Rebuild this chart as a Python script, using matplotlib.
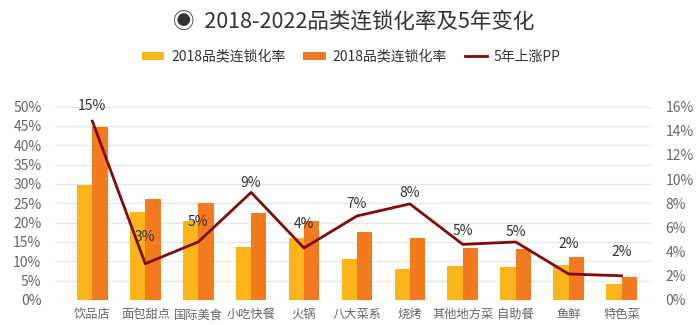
import numpy as np
import matplotlib.pyplot as plt
from matplotlib.ticker import PercentFormatter

plt.rcParams['font.family'] = ['Noto Sans CJK SC', 'DejaVu Sans']

# data
categories = ['饮品店', '面包甜点', '国际美食', '小吃快餐', '火锅', '八大菜系',
              '烧烤', '其他地方菜', '自助餐', '鱼鲜', '特色菜']
rate_2018 = [29.7, 22.8, 20.4, 13.8, 15.9, 10.7, 8.1, 8.8, 8.4, 9.1, 4.1]
rate_2022 = [44.6, 26.0, 25.1, 22.5, 20.4, 17.6, 15.9, 13.5, 13.1, 11.2, 5.9]
rise_pp = [14.8, 3.0, 4.8, 8.9, 4.3, 6.95, 7.95, 4.6, 4.8, 2.15, 2.0]
rise_labels = ['15%', '3%', '5%', '9%', '4%', '7%', '8%', '5%', '5%', '2%', '2%']

# label offsets above the line (pixels), as in the source
label_dy = [15, 27, 20, 9, 24, 12, 11, 13, 10, 30, 24]

c_yellow = '#FBB41A'
c_orange = '#F47A20'
c_line = '#7E0C0C'
c_text = '#666666'

fig = plt.figure(figsize=(7, 3.25), dpi=100)
ax = fig.add_axes([0.079, 0.077, 0.852, 0.595])
ax2 = ax.twinx()

x = np.arange(len(categories))
w = 0.29
ax.bar(x - w / 2, rate_2018, w, color=c_yellow, label='2018品类连锁化率', zorder=2)
ax.bar(x + w / 2, rate_2022, w, color=c_orange, label='2018品类连锁化率', zorder=2)
ax2.plot(x, rise_pp, color=c_line, lw=2, label='5年上涨PP', zorder=3)

for xi, yi, lab, dy in zip(x, rise_pp, rise_labels, label_dy):
    ax2.annotate(lab, (xi, yi), xytext=(0, dy * 0.72), textcoords='offset points',
                 ha='center', va='center', fontsize=10, color='#333333')

ax.set_xlim(-0.7, 10.57)
ax.set_ylim(0, 50)
ax2.set_ylim(0, 16)
ax.set_yticks(np.arange(0, 51, 5))
ax2.set_yticks(np.arange(0, 17, 2))
ax.yaxis.set_major_formatter(PercentFormatter(decimals=0))
ax2.yaxis.set_major_formatter(PercentFormatter(decimals=0))
ax.set_xticks(x)
ax.set_xticklabels(categories)

ax.grid(axis='y', color='#E6E6E6', lw=1, zorder=0)
ax.set_axisbelow(True)
for a in (ax, ax2):
    for s in a.spines.values():
        s.set_visible(False)
    a.tick_params(length=0, labelsize=10, labelcolor=c_text)
ax.tick_params(axis='x', labelsize=8.8, pad=6)
ax.tick_params(axis='y', pad=10)
ax2.tick_params(axis='y', pad=10)

fig.text(0.505, 0.935, '◉  2018-2022品类连锁化率及5年变化', ha='center', va='center',
         fontsize=15.5, color='#333333')

h1, l1 = ax.get_legend_handles_labels()
h2, l2 = ax2.get_legend_handles_labels()
fig.legend(h1 + h2, l1 + l2, loc='center', bbox_to_anchor=(0.502, 0.825), ncol=3,
           frameon=False, fontsize=10, handlelength=1.6, handleheight=0.6,
           handletextpad=0.5, columnspacing=1.3, labelcolor='#333333')

fig.savefig('out.png', dpi=100)
